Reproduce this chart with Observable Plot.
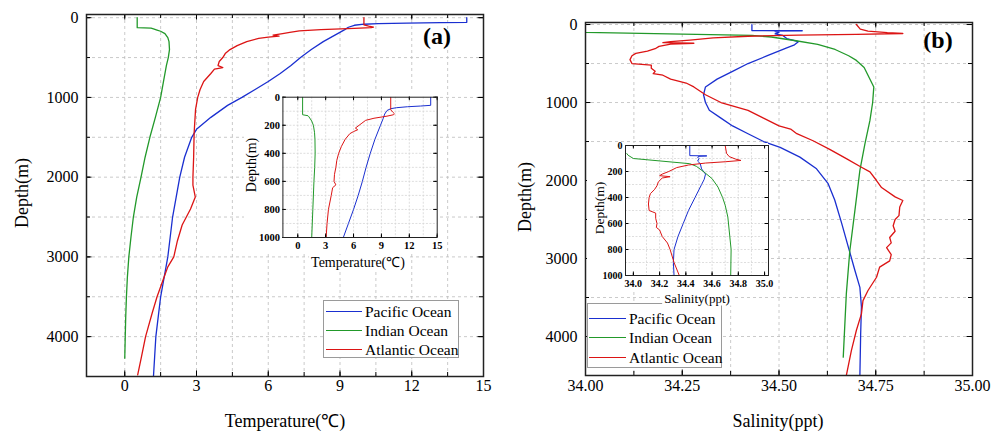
<!DOCTYPE html>
<html><head><meta charset="utf-8">
<script src="https://cdn.jsdelivr.net/npm/d3@7"></script>
<script src="https://cdn.jsdelivr.net/npm/@observablehq/plot@0.6"></script>
<style>
body{margin:0;background:#fff;}
#wrap{position:relative;width:993px;height:432px;overflow:hidden;font-family:"Liberation Serif","Times New Roman",serif;color:#000;}
#wrap svg{position:absolute;left:0;top:0;}
#wrap svg text{font-family:"Liberation Serif","Times New Roman",serif !important;}
.lbl{position:absolute;white-space:nowrap;line-height:1;}
.cover{position:absolute;background:#fff;}
.leg{position:absolute;background:#fff;border:1px solid #9a9a9a;box-sizing:border-box;}
</style></head>
<body><div id="wrap"></div>
<script>
// ---------------- data: temperature profiles ----------------
const tempDepthPacific = [0, 58, 63, 68, 75, 82, 95, 120, 150, 200, 300, 400, 500, 600, 700, 800, 900, 1000, 1100, 1250, 1400, 1500, 1750, 2000, 2250, 2500, 2750, 3000, 3250, 3500, 3750, 4000, 4250, 4500];
const tempPacific = [14.3, 14.3, 13.2, 11.8, 10.6, 10.0, 9.6, 9.35, 9.2, 8.9, 8.3, 7.8, 7.35, 6.95, 6.5, 6.0, 5.45, 4.9, 4.3, 3.6, 3.0, 2.8, 2.5, 2.3, 2.15, 2.0, 1.9, 1.8, 1.65, 1.5, 1.4, 1.3, 1.25, 1.2];
const tempDepthIndian = [0, 125, 132, 140, 155, 170, 200, 250, 300, 400, 500, 600, 800, 1000, 1250, 1500, 1750, 2000, 2250, 2500, 2750, 3000, 3250, 3500, 3750, 4000, 4270];
const tempIndian = [0.52, 0.52, 1.1, 1.2, 1.35, 1.5, 1.68, 1.8, 1.85, 1.87, 1.82, 1.74, 1.62, 1.5, 1.28, 1.05, 0.85, 0.68, 0.5, 0.36, 0.26, 0.17, 0.11, 0.07, 0.04, 0.02, 0.0];
const tempDepthAtlantic = [0, 90, 105, 118, 125, 135, 150, 165, 185, 200, 220, 232, 245, 260, 300, 350, 400, 450, 500, 550, 600, 625, 645, 700, 800, 900, 1000, 1150, 1450, 1750, 2000, 2100, 2250, 2400, 2600, 2800, 3000, 3125, 3250, 3375, 3500, 3700, 4000, 4250, 4480];
const tempAtlantic = [10.0, 10.0, 10.2, 10.4, 10.3, 9.6, 8.2, 7.3, 6.9, 6.6, 6.2, 6.45, 6.0, 5.6, 5.1, 4.7, 4.4, 4.2, 4.1, 3.95, 3.9, 4.1, 3.75, 3.6, 3.3, 3.15, 3.05, 2.96, 2.9, 2.88, 2.85, 2.85, 2.95, 2.75, 2.4, 2.2, 2.05, 1.8, 1.65, 1.5, 1.35, 1.15, 0.87, 0.7, 0.54];

// ---------------- data: salinity profiles ----------------
const salDepthPacific = [0, 78, 80, 83, 90, 100, 120, 140, 180, 220, 260, 300, 400, 500, 600, 700, 800, 900, 1000, 1100, 1200, 1300, 1400, 1500, 1575, 1700, 1850, 2040, 2250, 2550, 2850, 3150, 3370, 3620, 3970, 4500];
const salPacific = [34.43, 34.43, 34.56, 34.5, 34.49, 34.5, 34.49, 34.51, 34.52, 34.55, 34.54, 34.52, 34.47, 34.42, 34.38, 34.34, 34.31, 34.305, 34.31, 34.32, 34.35, 34.38, 34.42, 34.46, 34.503, 34.554, 34.597, 34.627, 34.644, 34.662, 34.679, 34.696, 34.709, 34.713, 34.711, 34.709];
const salDepthIndian = [62, 75, 100, 140, 160, 205, 255, 320, 400, 460, 550, 800, 1000, 1230, 1530, 1870, 2390, 2900, 3450, 4265];
const salIndian = [33.95, 33.96, 34.0, 34.43, 34.48, 34.54, 34.6, 34.645, 34.68, 34.70, 34.72, 34.745, 34.742, 34.735, 34.722, 34.709, 34.696, 34.683, 34.674, 34.666];
const salDepthAtlantic = [0, 60, 85, 105, 115, 125, 135, 150, 170, 200, 220, 232, 240, 250, 280, 310, 340, 370, 400, 450, 500, 520, 560, 600, 630, 650, 700, 750, 800, 900, 1000, 1100, 1200, 1300, 1340, 1400, 1490, 1600, 1720, 1830, 1890, 2000, 2090, 2210, 2256, 2340, 2450, 2500, 2580, 2650, 2730, 2800, 2860, 2950, 3030, 3110, 3240, 3410, 3540, 3710, 3920, 4180, 4500];
const salAtlantic = [34.70, 34.71, 34.73, 34.78, 34.82, 34.7, 34.55, 34.42, 34.33, 34.27, 34.22, 34.2, 34.28, 34.22, 34.19, 34.18, 34.16, 34.13, 34.12, 34.115, 34.12, 34.17, 34.17, 34.18, 34.175, 34.2, 34.22, 34.26, 34.28, 34.31, 34.35, 34.42, 34.46, 34.5, 34.53, 34.546, 34.588, 34.631, 34.674, 34.713, 34.735, 34.752, 34.765, 34.8, 34.82, 34.812, 34.81, 34.8, 34.795, 34.8, 34.786, 34.79, 34.778, 34.79, 34.786, 34.76, 34.752, 34.73, 34.717, 34.713, 34.70, 34.687, 34.674];

// ---------------- categories, ticks ----------------
const oceans = ["Pacific Ocean", "Indian Ocean", "Atlantic Ocean"];
const oceanColors = ["#1a2fd0", "#22992a", "#dc1414"];

const aXLabels = [0, 3, 6, 9, 12, 15];
const aXTicks = [0, 1.5, 3, 4.5, 6, 7.5, 9, 10.5, 12, 13.5, 15];
const aXGrid = [0, 1.5, 3, 4.5, 6, 7.5, 9, 10.5, 12, 13.5];
const depthLabels = [0, 1000, 2000, 3000, 4000];
const depthTicks = [0, 500, 1000, 1500, 2000, 2500, 3000, 3500, 4000];
const bXLabels = [34.00, 34.25, 34.50, 34.75, 35.00];
const bXTicks = [34.125, 34.25, 34.375, 34.5, 34.625, 34.75, 34.875];
const bXGrid = [34.125, 34.25, 34.375, 34.5, 34.625, 34.75, 34.875];
const insetDepthLabels = [0, 200, 400, 600, 800, 1000];
const insetDepthGrid = [100, 200, 300, 400, 500, 600, 700, 800, 900];
const insetAXLabels = [0, 3, 6, 9, 12, 15];
const insetAXGrid = [0, 1.5, 3, 4.5, 6, 7.5, 9, 10.5, 12, 13.5];
const insetBXLabels = [34.0, 34.2, 34.4, 34.6, 34.8, 35.0];
const insetBXGrid = [34.1, 34.2, 34.3, 34.4, 34.5, 34.6, 34.7, 34.8, 34.9];

const zip = (ds, vs) => ds.map((d, i) => ({d, v: vs[i]}));
const tempSeries = [zip(tempDepthPacific, tempPacific), zip(tempDepthIndian, tempIndian), zip(tempDepthAtlantic, tempAtlantic)];
const salSeries = [zip(salDepthPacific, salPacific), zip(salDepthIndian, salIndian), zip(salDepthAtlantic, salAtlantic)];

const W = 993, H = 432;
const wrap = document.getElementById("wrap");

function panel(o) {
  const [L, R] = o.xRange, [T, B] = o.yRange;
  const fw = R - L, fh = B - T;
  const marks = [];
  marks.push(Plot.gridX(o.xGrid, {stroke: o.gridColor, strokeOpacity: 1, strokeWidth: 0.8, strokeDasharray: o.dash}));
  marks.push(Plot.gridY(o.yGrid, {stroke: o.gridColor, strokeOpacity: 1, strokeWidth: 0.8, strokeDasharray: o.dash}));
  o.series.forEach((s, i) => marks.push(Plot.line(s, {x: "v", y: "d", stroke: oceanColors[i], strokeWidth: o.lw, clip: true})));
  const tk = (vals, len) => [
    Plot.tickX(vals, {x: d => d, insetTop: fh - len, stroke: "#000", strokeWidth: 1}),
    Plot.tickX(vals, {x: d => d, insetBottom: fh - len, stroke: "#000", strokeWidth: 1})
  ];
  const tky = (vals, len) => [
    Plot.tickY(vals, {y: d => d, insetRight: fw - len, stroke: "#000", strokeWidth: 1}),
    Plot.tickY(vals, {y: d => d, insetLeft: fw - len, stroke: "#000", strokeWidth: 1})
  ];
  marks.push(...tk(o.xTicks, o.tickLen), ...tk(o.xLabels, o.tickLen + 1.5));
  marks.push(...tky(o.yTicks, o.tickLen), ...tky(o.yLabels, o.tickLen + 1.5));
  marks.push(Plot.frame({stroke: "#222", strokeWidth: o.frameW}));
  marks.push(Plot.axisX(o.xLabels, {anchor: "bottom", tickSize: 0, tickPadding: o.xPad, tickFormat: o.fmtX, label: null}));
  marks.push(Plot.axisY(o.yLabels, {anchor: "left", tickSize: 0, tickPadding: o.yPad, tickFormat: o.fmtY, label: null}));
  const svg = Plot.plot({
    width: W, height: H,
    marginLeft: L, marginRight: W - R, marginTop: T, marginBottom: H - B,
    x: {domain: o.xDomain, range: [L, R], axis: null, label: null},
    y: {domain: o.yDomain, range: [T, B], axis: null, label: null},
    style: `background:none;font-family:'Liberation Serif','Times New Roman',serif;font-size:${o.fontSize}px;font-weight:${o.fontWeight};color:#000;overflow:visible;`,
    marks
  });
  wrap.appendChild(svg);
}

function label(text, cx, cy, size, opts = {}) {
  const el = document.createElement("div");
  el.className = "lbl";
  el.textContent = text;
  el.style.left = cx + "px";
  el.style.top = cy + "px";
  el.style.fontSize = size + "px";
  if (opts.bold) el.style.fontWeight = "bold";
  if (opts.bg) { el.style.background = "#fff"; el.style.padding = "1px 2px"; }
  el.style.transform = "translate(-50%,-50%)" + (opts.rotate ? " rotate(-90deg)" : "");
  wrap.appendChild(el);
}

function cover(x, y, w, h) {
  const el = document.createElement("div");
  el.className = "cover";
  Object.assign(el.style, {left: x + "px", top: y + "px", width: w + "px", height: h + "px"});
  wrap.appendChild(el);
}

function legend(x, y, w, h, rowYs, lx0, lx1, tx, size) {
  const box = document.createElement("div");
  box.className = "leg";
  Object.assign(box.style, {left: x + "px", top: y + "px", width: w + "px", height: h + "px"});
  oceans.forEach((name, i) => {
    const ln = document.createElement("div");
    Object.assign(ln.style, {position: "absolute", left: lx0 + "px", width: (lx1 - lx0) + "px", top: (rowYs[i] - 1) + "px", height: "0px", borderTop: "1.6px solid " + oceanColors[i]});
    box.appendChild(ln);
    const t = document.createElement("div");
    t.className = "lbl";
    t.textContent = name;
    Object.assign(t.style, {left: tx + "px", top: rowYs[i] + "px", fontSize: size + "px", transform: "translateY(-52%)"});
    box.appendChild(t);
  });
  wrap.appendChild(box);
}

const intFmt = d => String(d);

// ---- main panel (a) ----
panel({
  xDomain: [-1.6, 15], xRange: [86, 483], yDomain: [-40, 4500], yRange: [14, 376],
  xGrid: aXGrid, yGrid: depthTicks, gridColor: "#bdbdbd", dash: "3,3",
  series: tempSeries, lw: 1.3, xTicks: aXTicks, xLabels: aXLabels, yTicks: depthTicks, yLabels: depthLabels,
  tickLen: 4, frameW: 1.5, xPad: 3, yPad: 8, fmtX: intFmt, fmtY: intFmt, fontSize: 16, fontWeight: "normal"
});
// ---- main panel (b) ----
panel({
  xDomain: [34, 35], xRange: [585, 972], yDomain: [-26, 4500], yRange: [22, 375],
  xGrid: bXGrid, yGrid: depthTicks, gridColor: "#bdbdbd", dash: "3,3",
  series: salSeries, lw: 1.3, xTicks: bXTicks, xLabels: bXLabels, yTicks: depthTicks, yLabels: depthLabels,
  tickLen: 4, frameW: 1.5, xPad: 4, yPad: 8, fmtX: d3.format(".2f"), fmtY: intFmt, fontSize: 16, fontWeight: "normal"
});

legend(323, 300, 136, 58, [11, 30, 49], 2, 38, 41, 15.5);
legend(587, 303, 135, 65, [15, 34, 54], 1, 38, 41, 15.5);

// ---- insets: white backing then inset plots ----
cover(262, 91, 178, 8);
cover(244, 99, 196, 155);
cover(587, 143, 181, 146);

panel({
  xDomain: [-1.6, 15], xRange: [282.4, 436.7], yDomain: [0, 1000], yRange: [96.7, 237],
  xGrid: insetAXGrid, yGrid: insetDepthGrid, gridColor: "#d6d6d6", dash: "2,1.5",
  series: tempSeries, lw: 1, xTicks: insetAXLabels, xLabels: insetAXLabels, yTicks: insetDepthLabels, yLabels: insetDepthLabels,
  tickLen: 2, frameW: 1, xPad: 4, yPad: 3, fmtX: intFmt, fmtY: intFmt, fontSize: 10.5, fontWeight: "bold"
});
panel({
  xDomain: [33.94, 35.03], xRange: [625, 768], yDomain: [0, 1000], yRange: [145, 275],
  xGrid: insetBXGrid, yGrid: insetDepthGrid, gridColor: "#d6d6d6", dash: "2,1.5",
  series: salSeries, lw: 1, xTicks: insetBXLabels, xLabels: insetBXLabels, yTicks: insetDepthLabels, yLabels: insetDepthLabels,
  tickLen: 2, frameW: 1, xPad: 4, yPad: 3, fmtX: d3.format(".1f"), fmtY: intFmt, fontSize: 10, fontWeight: "bold"
});

// ---- titles ----
label("Depth(m)", 22, 193, 18, {rotate: true});
label("Temperature(\u2103)", 285, 421, 18);
label("Depth(m)", 525, 197, 18, {rotate: true});
label("Salinity(ppt)", 778, 421, 18);
label("(a)", 437, 36, 24, {bold: true});
label("(b)", 938, 40, 24, {bold: true});
label("Depth(m)", 252, 165, 14, {rotate: true});
label("Temperature(\u2103)", 358, 263, 14, {bg: true});
label("Depth(m)", 600, 208, 13.5, {rotate: true});
label("Salinity(ppt)", 697, 298, 13, {bg: true});
</script>
</body></html>
